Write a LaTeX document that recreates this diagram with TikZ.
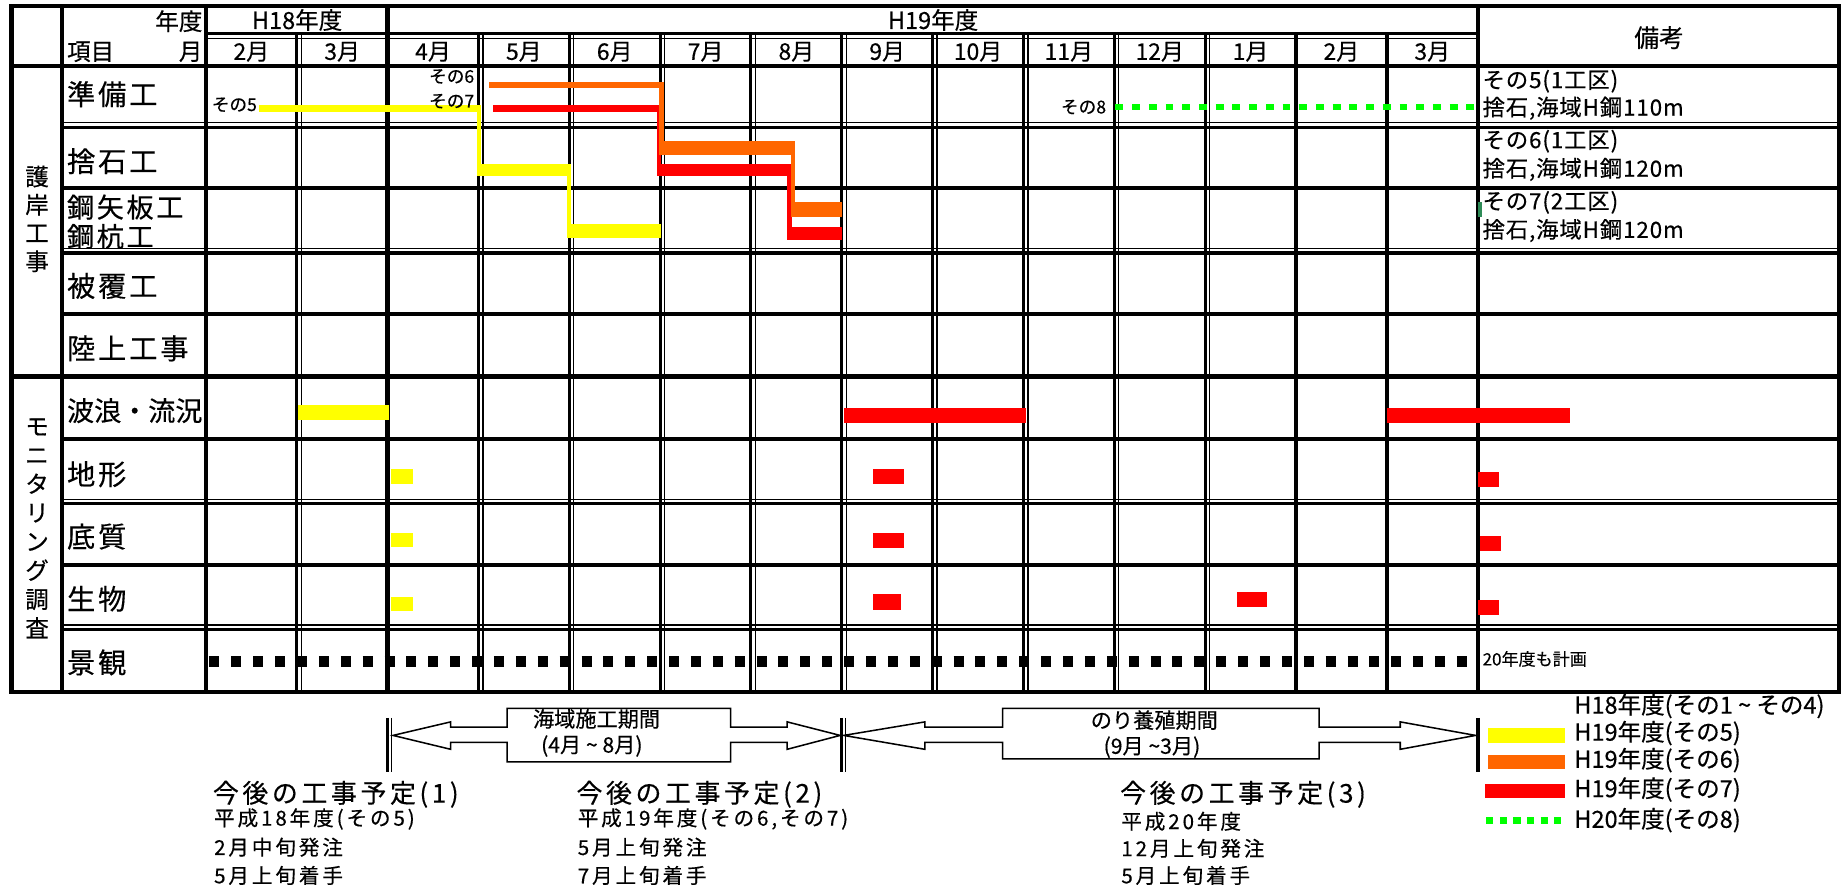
\documentclass[tikz,border=0pt]{standalone}
\usepackage{fontspec}
\setmainfont{Noto Sans CJK JP}[FakeBold=0.4]
\newfontfamily\jpa{Noto Sans CJK JP}[LetterSpace=10,FakeBold=0.4]
\newfontfamily\jpb{Noto Sans CJK JP}[LetterSpace=14,FakeBold=0.4]
\newfontfamily\jpc{Noto Sans CJK JP}[LetterSpace=4,FakeBold=0.4]
\definecolor{cyel}{RGB}{255,255,0}
\definecolor{cora}{RGB}{255,102,0}
\definecolor{cred}{RGB}{255,0,0}
\definecolor{cgrn}{RGB}{0,255,0}
\definecolor{cmark}{RGB}{46,139,87}
\begin{document}
\begin{tikzpicture}[x=1pt,y=-1pt,
  thk/.style={line width=3.6pt},
  dbla/.style={line width=2.6pt},
  dblb/.style={line width=1.2pt},
  txt/.style={inner sep=0pt, outer sep=0pt},
  hdr/.style={txt, font=\fontsize{20}{24}\selectfont},
  mon/.style={txt, font=\fontsize{19.5}{22}\selectfont},
  item/.style={txt, anchor=west, font=\jpa\fontsize{24}{26}\selectfont},
  sec/.style={txt, align=center},
  note/.style={txt, anchor=west, font=\jpc\fontsize{19}{22}\selectfont},
  tag/.style={txt, font=\fontsize{15}{17}\selectfont},
  arrtxt/.style={txt, font=\fontsize{18}{22}\selectfont},
  blockarrow/.style={draw=black, line width=1.3pt, fill=white},
  head/.style={txt, anchor=west, font=\jpb\fontsize{22}{24}\selectfont},
  body/.style={txt, anchor=west, font=\jpb\fontsize{17.5}{20}\selectfont},
  leg/.style={txt, anchor=west, font=\fontsize{20}{24}\selectfont}
]
\useasboundingbox (0,0) rectangle (1568,754);
\fill[white] (0,0) rectangle (1568,754);

% ---------------- grid ----------------
\foreach \i in {1,3,4,5,6,7,8,9,10,11} {
  \draw[dbla] ({175+77.2*\i},30) -- ({175+77.2*\i},588);
  \draw[dblb] ({178.8+77.2*\i},30) -- ({178.8+77.2*\i},588);
}
\foreach \i in {12,13} \draw[thk] ({175+77.2*\i},30) -- ({175+77.2*\i},588);
\foreach \x in {53,175,329.4,1255.8} \draw[thk] (\x,5) -- (\x,588);
\draw[dbla] (175,28.5) -- (1255.8,28.5);
\draw[dblb] (175,32.7) -- (1255.8,32.7);
\draw[thk] (10,56) -- (1563,56);
\foreach \y in {107,214,427,534} {
  \draw[dblb] (53,\y-2.7) -- (1563,\y-2.7);
  \draw[dbla] (53,\y+1) -- (1563,\y+1);
}
\foreach \y in {160,267,373,480} \draw[thk] (53,\y) -- (1563,\y);
\draw[thk] (10,320) -- (1563,320);
\draw[line width=4pt] (10,5) rectangle (1563,588);

% ---------------- bars ----------------
% yellow (sono 5)
\fill[cyel] (220,89) rectangle (409,95);
\fill[cyel] (405,89) rectangle (409,150);
\fill[cyel] (405,139) rectangle (485,150);
\fill[cyel] (481.5,139) rectangle (485.5,202.5);
\fill[cyel] (481.5,190.5) rectangle (562,202.5);
% red (sono 7)
\fill[cred] (419,89) rectangle (562,95);
\fill[cred] (558,89) rectangle (562,150);
\fill[cred] (558,139) rectangle (671,150);
\fill[cred] (669,139) rectangle (673,204);
\fill[cred] (669,192.5) rectangle (716,204);
% orange (sono 6)
\fill[cora] (416,69.5) rectangle (563,74.5);
\fill[cora] (560,69.5) rectangle (564,132);
\fill[cora] (560,120) rectangle (675,132);
\fill[cora] (672,120) rectangle (676,184);
\fill[cora] (672,172) rectangle (716,184);
% green dotted (sono 8)
\draw[cgrn, line width=5.5pt, dash pattern=on 6.7pt off 7.5pt] (948,91) -- (1254,91);

% ---------------- monitoring bars ----------------
\fill[cyel] (253,344) rectangle (331,357);
\fill[cred] (717,347) rectangle (872,359.5);
\fill[cred] (1179,347) rectangle (1334,359.5);
\fill[cyel] (332,399) rectangle (351,411);
\fill[cred] (742,399) rectangle (768,411);
\fill[cred] (1256,401.5) rectangle (1274,413.5);
\fill[cyel] (332,453) rectangle (351,465);
\fill[cred] (742,453) rectangle (768,466);
\fill[cred] (1257.5,455.5) rectangle (1276,468);
\fill[cyel] (332,507) rectangle (351,519);
\fill[cred] (742,505) rectangle (766,518);
\fill[cred] (1051,503) rectangle (1077,516);
\fill[cred] (1256,510) rectangle (1274,522.5);
\draw[black, line width=9pt, dash pattern=on 8.5pt off 10.1pt] (178,562) -- (1247,562);
\fill[cmark] (1256,172) rectangle (1259.5,184);

% ---------------- header texts ----------------
\node[hdr, anchor=east] (hnendo) at (172,18) {年度};
\node[hdr, anchor=west] (hkoumoku) at (57,44) {項目};
\node[hdr, anchor=east] (htsuki) at (172,44) {月};
\node[hdr] (h18) at (252.5,17) {H18年度};
\node[hdr] (h19) at (793,17) {H19年度};
\node[txt, font=\fontsize{21}{24}\selectfont] (biko) at (1410,32) {備考};
\foreach \i/\m in {0/2,1/3,2/4,3/5,4/6,5/7,6/8,7/9,8/10,9/11,10/12,11/1,12/2,13/3}
  \node[mon] (m\i) at ({213.6+77.2*\i},44) {\m 月};

% ---------------- section labels ----------------
\node[sec, font=\fontsize{20}{24}\selectfont] (sec1) at (31.5,186) {護\\岸\\工\\事};
\node[sec, font=\fontsize{20}{24.5}\selectfont] (sec2) at (31.5,449) {モ\\ニ\\タ\\リ\\ン\\グ\\調\\査};

% ---------------- item labels ----------------
\node[item] (i1) at (57,80) {準備工};
\node[item] (i2) at (57,137) {捨石工};
\node[item, font=\jpa\fontsize{23}{24}\selectfont] (i3a) at (57,176) {鋼矢板工};
\node[item, font=\jpa\fontsize{23}{24}\selectfont] (i3b) at (57,201) {鋼杭工};
\node[item] (i4) at (57,243) {被覆工};
\node[item] (i5) at (57,296) {陸上工事};
\node[item, font=\fontsize{23}{25}\selectfont] (i6) at (57,349) {波浪・流況};
\node[item] (i7) at (57,403) {地形};
\node[item] (i8) at (57,456) {底質};
\node[item] (i9) at (57,509) {生物};
\node[item] (i10) at (57,563) {景観};

% ---------------- bar tags ----------------
\node[tag, anchor=west] (t5) at (180,89) {その5};
\node[tag, anchor=east] (t6) at (403,65) {その6};
\node[tag, anchor=east] (t7) at (403,86) {その7};
\node[tag, anchor=east] (t8) at (940,91) {その8};

% ---------------- remarks ----------------
\node[note] (r1a) at (1260,69) {その5(1工区)};
\node[note] (r1b) at (1260,92) {捨石,海域H鋼110m};
\node[note] (r2a) at (1260,120) {その6(1工区)};
\node[note] (r2b) at (1260,144) {捨石,海域H鋼120m};
\node[note] (r3a) at (1260,172) {その7(2工区)};
\node[note] (r3b) at (1260,196) {捨石,海域H鋼120m};
\node[txt, anchor=west, font=\fontsize{14.5}{18}\selectfont] (r10) at (1260,560) {20年度も計画};

% ---------------- period arrows ----------------
\draw[dbla] (329,610) -- (329,656);
\draw[dblb] (332.8,610) -- (332.8,656);
\draw[dbla] (715,610) -- (715,656);
\draw[dblb] (718.8,610) -- (718.8,656);
\draw[thk] (1256,610) -- (1256,656);
\coordinate (a1l) at (334,625);
\coordinate (a1r) at (714,625);
\draw[blockarrow] (a1l) -- (383,613.5) -- (383,618) -- (431,618) -- (431,602) -- (621,602) -- (621,618)
  -- (669,618) -- (669,613.5) -- (a1r) -- (669,636.8) -- (669,631) -- (621,631) -- (621,647.5)
  -- (431,647.5) -- (431,631) -- (383,631) -- (383,636.8) -- cycle;
\coordinate (a2l) at (717,625);
\coordinate (a2r) at (1254,625);
\draw[blockarrow] (a2l) -- (786,613.5) -- (786,618) -- (852,618) -- (852,602) -- (1121,602) -- (1121,618)
  -- (1190,618) -- (1190,613.5) -- (a2r) -- (1190,636.8) -- (1190,631) -- (1121,631) -- (1121,645)
  -- (852,645) -- (852,631) -- (786,631) -- (786,636.8) -- cycle;
\node[arrtxt] (p1a) at (507,611) {海域施工期間};
\node[arrtxt] (p1b) at (503,634) {(4月 \textasciitilde\ 8月)};
\node[arrtxt] (p2a) at (981,612) {のり養殖期間};
\node[arrtxt] (p2b) at (979,635) {(9月 \textasciitilde 3月)};

% ---------------- plans ----------------
\node[head] (k1) at (181,675) {今後の工事予定(1)};
\node[body] (k1a) at (182,696) {平成18年度(その5)};
\node[body] (k1b) at (182,720) {2月中旬発注};
\node[body] (k1c) at (182,744) {5月上旬着手};
\node[head] (k2) at (490,675) {今後の工事予定(2)};
\node[body] (k2a) at (491,696) {平成19年度(その6,その7)};
\node[body] (k2b) at (491,720) {5月上旬発注};
\node[body] (k2c) at (491,744) {7月上旬着手};
\node[head] (k3) at (952,675) {今後の工事予定(3)};
\node[body] (k3a) at (953,698) {平成20年度};
\node[body] (k3b) at (953,721) {12月上旬発注};
\node[body] (k3c) at (953,744) {5月上旬着手};

% ---------------- legend ----------------
\fill[cyel] (1265,619) rectangle (1330,631.5);
\fill[cora] (1265,641.6) rectangle (1330,653.7);
\fill[cred] (1262,666) rectangle (1330,678);
\draw[cgrn, line width=6pt, dash pattern=on 6.2pt off 5.4pt] (1263,697) -- (1327,697);
\node[leg] (l0) at (1338,600) {H18年度(その1 \textasciitilde\ その4)};
\node[leg] (l1) at (1338,623) {H19年度(その5)};
\node[leg] (l2) at (1338,646) {H19年度(その6)};
\node[leg] (l3) at (1338,671) {H19年度(その7)};
\node[leg] (l4) at (1338,697) {H20年度(その8)};
\end{tikzpicture}
\end{document}
